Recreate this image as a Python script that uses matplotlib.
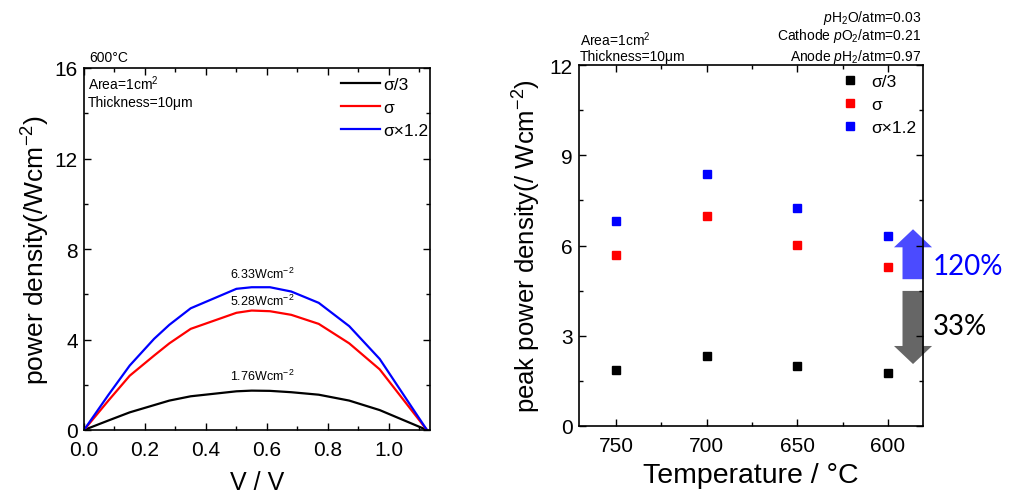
import matplotlib
matplotlib.use("Agg")
import matplotlib.pyplot as plt
from matplotlib.patches import FancyArrow
from matplotlib.ticker import MultipleLocator

plt.rcParams['font.family'] = ['Liberation Sans', 'DejaVu Sans']
plt.rcParams['mathtext.fontset'] = 'custom'
plt.rcParams['mathtext.rm'] = 'Liberation Sans'
plt.rcParams['mathtext.it'] = 'Liberation Sans:italic'
plt.rcParams['mathtext.default'] = 'regular'

# ---- left panel data (600 °C) ----
voltage = [0, 0.08, 0.15, 0.23, 0.28, 0.35, 0.50, 0.55, 0.61, 0.68, 0.77, 0.87, 0.97, 1.125]
p_sigma_3 = [0, 0.42, 0.78, 1.10, 1.30, 1.49, 1.71, 1.74, 1.73, 1.67, 1.56, 1.30, 0.88, 0]
p_sigma = [0, 1.30, 2.40, 3.29, 3.83, 4.47, 5.18, 5.28, 5.25, 5.09, 4.69, 3.83, 2.68, 0]
p_sigma_12 = [0, 1.55, 2.85, 4.03, 4.65, 5.38, 6.24, 6.31, 6.31, 6.12, 5.62, 4.59, 3.14, 0]
peak_labels = ['1.76Wcm$^{-2}$', '5.28Wcm$^{-2}$', '6.33Wcm$^{-2}$']
peak_label_y = [2.4, 5.75, 6.9]
series_labels = ['σ/3', 'σ', 'σ×1.2']
series_colors = ['black', 'red', 'blue']

# ---- right panel data ----
temperatures = [750, 700, 650, 600]
peak_sigma_3 = [1.87, 2.32, 1.99, 1.76]
peak_sigma = [5.68, 6.98, 6.01, 5.28]
peak_sigma_12 = [6.82, 8.38, 7.23, 6.33]

fig = plt.figure(figsize=(10.11, 5.02), dpi=100)

def style_axes(ax):
    ax.tick_params(which='both', direction='in', top=True, right=True,
                   labelsize=15, width=1.0, colors='black')
    ax.tick_params(which='major', length=5)
    ax.tick_params(which='minor', length=3)
    ax.tick_params(axis='x', which='major', pad=7)
    ax.tick_params(axis='y', which='major', pad=4.5)
    for s in ax.spines.values():
        s.set_linewidth(1.2)

# left axes
ax1 = fig.add_axes([84/1011, 1-431/502, 346/1011, 362/502])
for vals, lab, col in zip([p_sigma_3, p_sigma, p_sigma_12], series_labels, series_colors):
    ax1.plot(voltage, vals, color=col, lw=1.6, label=lab)
ax1.set_xlim(0, 1.135)
ax1.set_ylim(0, 16)
ax1.xaxis.set_minor_locator(MultipleLocator(0.1))
ax1.yaxis.set_major_locator(MultipleLocator(4))
ax1.yaxis.set_minor_locator(MultipleLocator(2))
ax1.set_xticks([0, 0.2, 0.4, 0.6, 0.8, 1.0])
ax1.set_xticklabels(['0.0', '0.2', '0.4', '0.6', '0.8', '1.0'])
style_axes(ax1)
ax1.set_xlabel('V / V', fontsize=18, labelpad=8)
ax1.set_ylabel('power density(/Wcm$^{-2}$)', fontsize=19, labelpad=2)
for txt, y in zip(peak_labels, peak_label_y):
    ax1.text(0.585, y, txt, fontsize=9, ha='center', va='center')
ax1.text(0.012, 0.985, 'Area=1cm$^2$\nThickness=10μm', transform=ax1.transAxes,
         fontsize=10, va='top', ha='left', linespacing=1.25)
ax1.text(0.015, 1.012, '600°C', transform=ax1.transAxes, fontsize=10, va='bottom', ha='left')
ax1.legend(loc='upper right', frameon=False, fontsize=12.5, handlelength=2.2,
           handletextpad=0.2, borderaxespad=0.0, labelspacing=0.45,
           bbox_to_anchor=(1.015, 0.995))

# right axes
ax2 = fig.add_axes([579/1011, 1-427/502, 344/1011, 361/502])
for vals, lab, col in zip([peak_sigma_3, peak_sigma, peak_sigma_12], series_labels, series_colors):
    ax2.plot(temperatures, vals, 's', color=col, ms=6, label=lab, linestyle='none')
ax2.set_xlim(770.4, 580.7)
ax2.set_ylim(0, 12)
ax2.set_xticks(temperatures)
ax2.xaxis.set_minor_locator(MultipleLocator(25))
ax2.yaxis.set_major_locator(MultipleLocator(3))
ax2.yaxis.set_minor_locator(MultipleLocator(1.5))
style_axes(ax2)
ax2.set_xlabel('Temperature / °C', fontsize=20.5, labelpad=5)
ax2.set_ylabel('peak power density(/ Wcm$^{-2}$)', fontsize=18.5, labelpad=5)
ax2.legend(loc='upper right', frameon=False, fontsize=12.5, handletextpad=0.7,
           borderaxespad=0.0, labelspacing=0.45, bbox_to_anchor=(1.0, 0.995),
           handlelength=1.0, markerscale=1.0)

# arrows
up = FancyArrow(586.2, 4.88, 0, 1.66, width=11.6, head_width=21, head_length=0.6,
                length_includes_head=True, color='#4b4bff', ec='none', clip_on=False,
                transform=ax2.transData)
down = FancyArrow(586.2, 4.49, 0, -2.43, width=11.6, head_width=21, head_length=0.6,
                  length_includes_head=True, color='#666666', ec='none', clip_on=False,
                  transform=ax2.transData)
ax2.add_patch(up)
ax2.add_patch(down)
ax2.text(575.2, 5.32, '120%', fontsize=20, color='#0000ff', va='center', ha='left',
         family=['Lato', 'DejaVu Sans'], clip_on=False)
ax2.text(575.2, 3.32, '33%', fontsize=20, color='black', va='center', ha='left',
         family=['Lato', 'DejaVu Sans'], clip_on=False)

# header texts
fig.text(580/1011, 1-40/502, 'Area=1cm$^2$', fontsize=10, va='center', ha='left')
fig.text(580/1011, 1-57/502, 'Thickness=10μm', fontsize=10, va='center', ha='left')
fig.text(921/1011, 1-18/502, r'$\mathit{p}$H$_2$O/atm=0.03', fontsize=10, va='center', ha='right')
fig.text(921/1011, 1-36/502, r'Cathode $\mathit{p}$O$_2$/atm=0.21', fontsize=10, va='center', ha='right')
fig.text(921/1011, 1-57/502, r'Anode $\mathit{p}$H$_2$/atm=0.97', fontsize=10, va='center', ha='right')

fig.savefig('out.png', dpi=100)
